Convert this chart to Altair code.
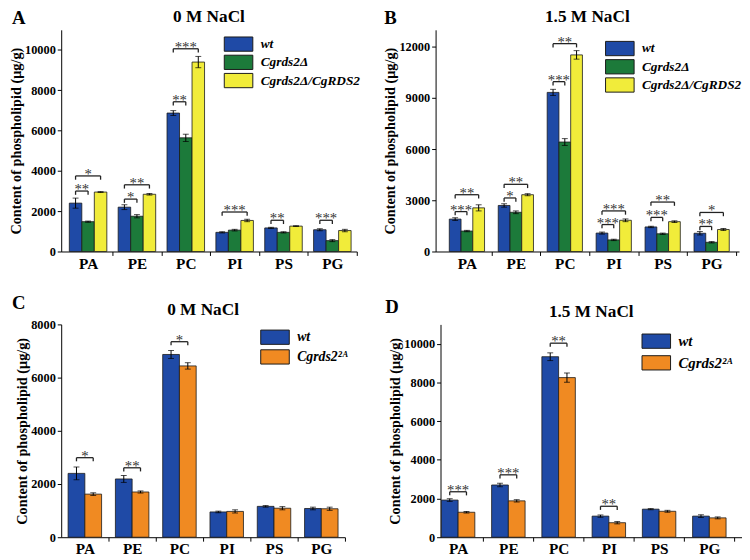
import json
import altair as alt
import pandas as pd

categories = ["PA", "PE", "PC", "PI", "PS", "PG"]

# Panel A: 0 M NaCl
a_series = ["wt", "Cgrds2Δ", "Cgrds2Δ/CgRDS2"]
a_wt = [2400, 2200, 6870, 950, 1170, 1080]
a_wt_err = [250, 120, 120, 30, 30, 50]
a_del = [1480, 1750, 5640, 1060, 950, 540]
a_del_err = [30, 80, 180, 40, 30, 50]
a_comp = [2950, 2840, 9400, 1540, 1260, 1040]
a_comp_err = [20, 40, 280, 60, 20, 60]
a_br_cat = ["PA", "PA", "PE", "PE", "PC", "PC", "PI", "PS", "PG"]
a_br_to = [1, 2, 1, 2, 1, 2, 2, 1, 1]
a_br_level = [3000, 3750, 2600, 3310, 7430, 10060, 1960, 1550, 1550]
a_br_text = ["**", "*", "*", "**", "**", "***", "***", "**", "***"]

# Panel B: 1.5 M NaCl
b_series = ["wt", "Cgrds2Δ", "Cgrds2Δ/CgRDS2"]
b_wt = [1900, 2700, 9330, 1080, 1440, 1070]
b_wt_err = [80, 100, 180, 60, 40, 100]
b_del = [1200, 2300, 6420, 680, 1040, 540]
b_del_err = [40, 80, 200, 40, 40, 40]
b_comp = [2560, 3330, 11530, 1830, 1750, 1290]
b_comp_err = [180, 60, 250, 80, 50, 60]
b_br_cat = ["PA", "PA", "PE", "PE", "PC", "PC", "PI", "PI", "PS", "PS", "PG", "PG"]
b_br_to = [1, 2, 1, 2, 1, 2, 1, 2, 1, 2, 1, 2]
b_br_level = [2340, 3330, 3140, 3940, 9960, 12190, 1580, 2380, 2000, 2900, 1470, 2290]
b_br_text = ["***", "**", "*", "**", "***", "**", "***", "***", "***", "**", "**", "*"]

# Panel C: 0 M NaCl
c_series = ["wt", "Cgrds2²ᴬ"]
c_wt = [2400, 2190, 6870, 950, 1160, 1080]
c_wt_err = [240, 130, 150, 30, 30, 50]
c_mut = [1620, 1700, 6440, 970, 1090, 1070]
c_mut_err = [50, 40, 120, 60, 60, 60]
c_br_cat = ["PA", "PE", "PC"]
c_br_to = [1, 1, 1]
c_br_level = [2990, 2610, 7350]
c_br_text = ["*", "**", "*"]

# Panel D: 1.5 M NaCl
d_series = ["wt", "Cgrds2²ᴬ"]
d_wt = [1920, 2700, 9330, 1090, 1450, 1090]
d_wt_err = [70, 90, 200, 60, 30, 70]
d_mut = [1290, 1880, 8250, 750, 1340, 1000]
d_mut_err = [40, 60, 240, 60, 50, 50]
d_br_cat = ["PA", "PE", "PC", "PI"]
d_br_to = [1, 1, 1, 1]
d_br_level = [2350, 3225, 10030, 1600]
d_br_text = ["***", "***", "**", "**"]

BLUE = "#1f4aa6"
GREEN = "#1c7a3a"
YELLOW = "#f1ec3a"
ORANGE = "#f08a22"
FONT = "Liberation Serif"
YTITLE = "Content of phospholipid (μg/g)"


def panel(series, values, errors, colors, br_cat, br_to, br_level, br_text,
          title, letter, letter_pos, title_y, xdom, ymax, ystep, ymajor, width, height,
          bar_w, legend_xy, legend_font, legend_row):
    n = len(series)
    rows = []
    for j, s in enumerate(series):
        for i, c in enumerate(categories):
            rows.append({"cat": c, "ci": i, "series": s, "sj": j,
                         "value": values[j][i], "err": errors[j][i]})
    df = pd.DataFrame(rows)
    mid = (n - 1) / 2
    spacing = width / (xdom[1] - xdom[0])
    leg = ymax * 0.017

    xscale = alt.Scale(domain=xdom, nice=False, zero=False)
    yscale = alt.Scale(domain=[0, ymax], nice=False)
    xaxis = alt.Axis(values=list(range(len(categories))),
                     labelExpr=f"{json.dumps(categories)}[datum.value]",
                     tickOffset=spacing / 2, labelOffset=-spacing / 2,
                     title=None, labelFontSize=15.5, labelPadding=1, tickSize=4)
    yvals = list(range(0, ymax + 1, ystep))
    yaxis = alt.Axis(values=yvals, title=YTITLE,
                     labelExpr=f"datum.value % {ymajor} == 0 ? datum.label : ''",
                     format="d", tickSize=4, labelPadding=2, titlePadding=1,
                     labelFontSize=12.5, titleFontSize=14.5)

    base = alt.Chart(df).transform_calculate(
        pos=f"datum.ci + (datum.sj - {mid}) * {bar_w}",
        left=f"datum.ci + (datum.sj - {mid}) * {bar_w} - {bar_w / 2}",
        right=f"datum.ci + (datum.sj - {mid}) * {bar_w} + {bar_w / 2}",
        lo="datum.value - datum.err",
        hi="datum.value + datum.err",
    )
    bars = base.mark_bar(stroke="#1a1a1a", strokeWidth=0.8).encode(
        x=alt.X("left:Q", scale=xscale, axis=xaxis),
        x2="right:Q",
        y=alt.Y("value:Q", scale=yscale, axis=yaxis),
        y2=alt.datum(0),
        color=alt.Color("series:N",
                        scale=alt.Scale(domain=series, range=colors),
                        legend=alt.Legend(
                            orient="none", legendX=legend_xy[0], legendY=legend_xy[1],
                            title=None, padding=0,
                            symbolType="M-2,-1H2V1H-2Z", symbolSize=210,
                            symbolStrokeColor="#1a1a1a", symbolStrokeWidth=1,
                            symbolOpacity=1, labelFont=FONT, labelFontStyle="italic",
                            labelFontWeight="bold", labelFontSize=legend_font,
                            labelColor="black", labelOffset=14.5,
                            rowPadding=legend_row, labelLimit=300)),
    )
    err_rule = base.mark_rule(color="black", strokeWidth=1).encode(
        x="pos:Q", y="lo:Q", y2="hi:Q")
    cap_lo = base.mark_tick(color="black", thickness=1, size=6, orient="horizontal").encode(
        x="pos:Q", y="lo:Q")
    cap_hi = base.mark_tick(color="black", thickness=1, size=6, orient="horizontal").encode(
        x="pos:Q", y="hi:Q")

    bdf = pd.DataFrame({
        "ci": [categories.index(c) for c in br_cat],
        "to": br_to, "level": br_level, "text": br_text,
    })
    bbase = alt.Chart(bdf).transform_calculate(
        x1=f"datum.ci + (0 - {mid}) * {bar_w}",
        x2=f"datum.ci + (datum.to - {mid}) * {bar_w}",
        xm=f"datum.ci + (datum.to / 2 - {mid}) * {bar_w}",
        low=f"datum.level - {leg}",
    )
    hline = bbase.mark_rule(color="#222", strokeWidth=1.3).encode(
        x="x1:Q", x2="x2:Q", y="level:Q")
    legs = bbase.transform_fold(["x1", "x2"], as_=["k", "xv"]).mark_rule(
        color="#222", strokeWidth=1.3).encode(
        x="xv:Q", y="level:Q", y2="low:Q")
    stars = bbase.mark_text(font=FONT, fontSize=15, color="#333", baseline="alphabetic",
                            dy=3).encode(x="xm:Q", y="level:Q", text="text:N")

    label_df = pd.DataFrame({"t": [letter], "title": [title]})
    let = alt.Chart(label_df).mark_text(font=FONT, fontSize=19, fontWeight="bold",
                                        align="left", baseline="middle",
                                        color="black").encode(
        text="t:N", x=alt.value(letter_pos[0]), y=alt.value(letter_pos[1]))
    ttl = alt.Chart(label_df).mark_text(font=FONT, fontSize=17.5, fontWeight="bold",
                                        align="center", baseline="middle",
                                        color="black").encode(
        text="title:N", x=alt.value(width / 2), y=alt.value(title_y))

    return alt.layer(bars, err_rule, cap_lo, cap_hi, hline, legs, stars, let, ttl).properties(
        width=width, height=height)


pa = panel(a_series, [a_wt, a_del, a_comp], [a_wt_err, a_del_err, a_comp_err],
           [BLUE, GREEN, YELLOW], a_br_cat, a_br_to, a_br_level, a_br_text,
           "0 M NaCl", "A", (-50, -12), -13, [-0.55, 5.5], 11000, 1000, 2000, 300, 225,
           0.256, (172, 6.5), 13.5, -1.5)
pb = panel(b_series, [b_wt, b_del, b_comp], [b_wt_err, b_del_err, b_comp_err],
           [BLUE, GREEN, YELLOW], b_br_cat, b_br_to, b_br_level, b_br_text,
           "1.5 M NaCl", "B", (-52, -12), -13, [-0.64, 5.56], 13000, 1500, 3000, 308, 225,
           0.24, (179, 11), 13.5, -1.5)
pc = panel(c_series, [c_wt, c_mut], [c_wt_err, c_mut_err],
           [BLUE, ORANGE], c_br_cat, c_br_to, c_br_level, c_br_text,
           "0 M NaCl", "C", (-50, -22), -15, [-0.5, 5.5], 8000, 1000, 2000, 288, 216,
           0.354, (209, 5), 14, 0)
pd_ = panel(d_series, [d_wt, d_mut], [d_wt_err, d_mut_err],
            [BLUE, ORANGE], d_br_cat, d_br_to, d_br_level, d_br_text,
            "1.5 M NaCl", "D", (-56, -18), -13, [-0.35, 5.65], 11000, 1000, 2000, 306, 216,
            0.333, (211, 9), 15, 2)

top = alt.hconcat(pa, pb, spacing=22).resolve_scale(
    x="independent", y="independent", color="independent")
bottom = alt.hconcat(pc, pd_, spacing=38).resolve_scale(
    x="independent", y="independent", color="independent")

chart = alt.vconcat(top, bottom, spacing=22).resolve_scale(
    x="independent", y="independent", color="independent"
).properties(
    padding={"left": 0, "top": -4, "right": 0, "bottom": 0}
).configure_axis(
    labelFont=FONT, titleFont=FONT, labelFontWeight="bold", titleFontWeight="bold",
    labelColor="black", titleColor="black", domainColor="black", tickColor="black",
    domainWidth=1, tickWidth=1, grid=False,
).configure_view(stroke=None)

chart.save("out.html", embed_options={"renderer": "svg", "actions": False})
